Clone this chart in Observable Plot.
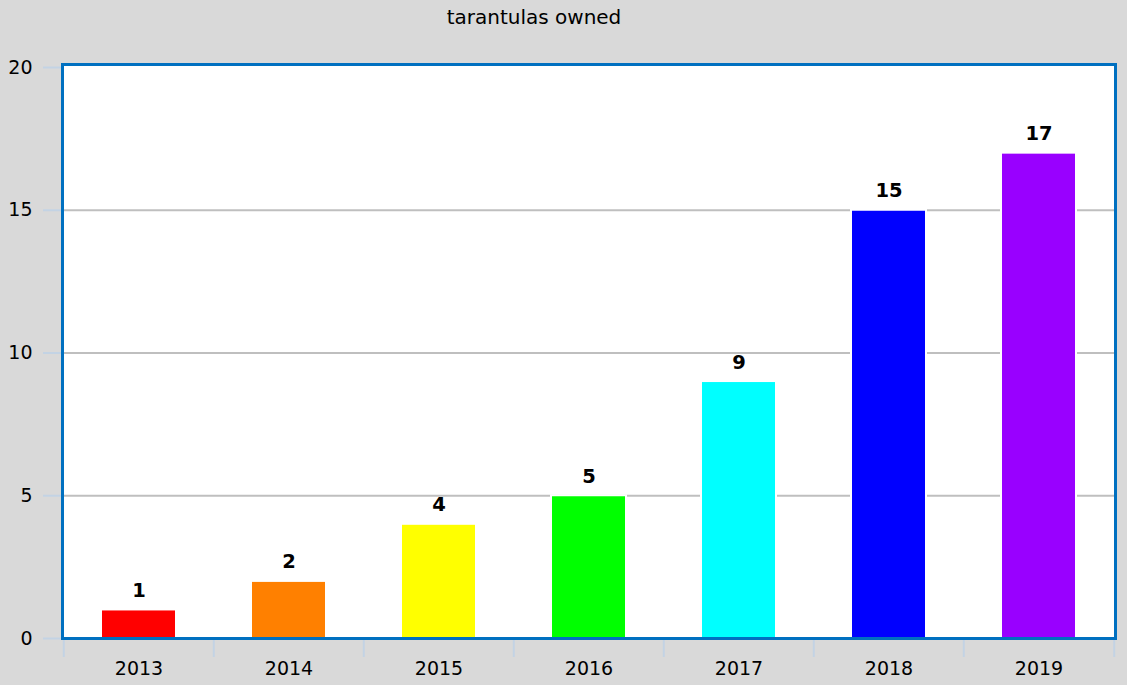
<!DOCTYPE html>
<html>
<head>
<meta charset="utf-8">
<script src="https://cdn.jsdelivr.net/npm/d3@7"></script>
<script src="https://cdn.jsdelivr.net/npm/@observablehq/plot@0.6"></script>
<style>
  html, body { margin: 0; padding: 0; background: #d9d9d9; }
  #wrap { position: relative; width: 1127px; height: 685px; background: #d9d9d9; overflow: hidden; }
  #title { position: absolute; left: 0; top: 5px; width: 1068px; text-align: center;
           font-family: "DejaVu Sans", sans-serif; font-size: 20px; color: #000; }
  svg { display: block; }
</style>
</head>
<body>
<div id="wrap"><div id="chart"></div><div id="title">tarantulas owned</div></div>
<script>
const years = ["2013", "2014", "2015", "2016", "2017", "2018", "2019"];
const owned = [1, 2, 4, 5, 9, 15, 17];
const barColors = ["#ff0000", "#ff8000", "#ffff00", "#00ff00", "#00ffff", "#0000ff", "#9900ff"];
const yTicks = [0, 5, 10, 15, 20];
const gridTicks = [5, 10, 15];

const data = years.map((y, i) => ({year: y, value: owned[i], color: barColors[i]}));

const W = 1127, H = 685;
const mL = 62, mR = 12, mT = 67, mB = 47;
const step = (W - mL - mR) / years.length;
const tickColor = "#c3d3e4";
const font = "DejaVu Sans, sans-serif";

const chart = Plot.plot({
  width: W,
  height: H,
  marginLeft: mL,
  marginRight: mR,
  marginTop: mT,
  marginBottom: mB,
  style: {background: "#d9d9d9", fontFamily: font, fontSize: "19px", color: "#000"},
  x: {domain: years, paddingInner: 0.5, paddingOuter: 0.25, label: null},
  y: {domain: [0, 20], label: null},
  marks: [
    Plot.frame({fill: "white", insetTop: -3}),
    Plot.gridY(gridTicks, {stroke: "#bfbfbf", strokeOpacity: 1, strokeWidth: 2}),
    Plot.barY(data, {x: "year", y: "value", fill: "color", stroke: "white", strokeWidth: 2}),
    Plot.text(data, {x: "year", y: "value", text: d => String(d.value), lineAnchor: "bottom", dy: -13,
      fontWeight: "bold", fontSize: 19.5, fill: "black"}),
    Plot.axisY(yTicks, {tickSize: 19, tickPadding: 11, stroke: tickColor, strokeWidth: 2, fontSize: 19, fill: "black", label: null}),
    Plot.axisX({tickSize: 0, tickPadding: 23, fontSize: 19, fill: "black", label: null}),
    Plot.axisX({tickSize: 19, text: null, dx: -step / 2, stroke: tickColor, strokeWidth: 2, label: null}),
    Plot.axisX([years[years.length - 1]], {tickSize: 19, text: null, dx: step / 2, stroke: tickColor, strokeWidth: 2, label: null}),
    Plot.frame({stroke: "#0070c0", strokeWidth: 3, insetTop: -3})
  ]
});
document.getElementById("chart").appendChild(chart);
</script>
</body>
</html>
